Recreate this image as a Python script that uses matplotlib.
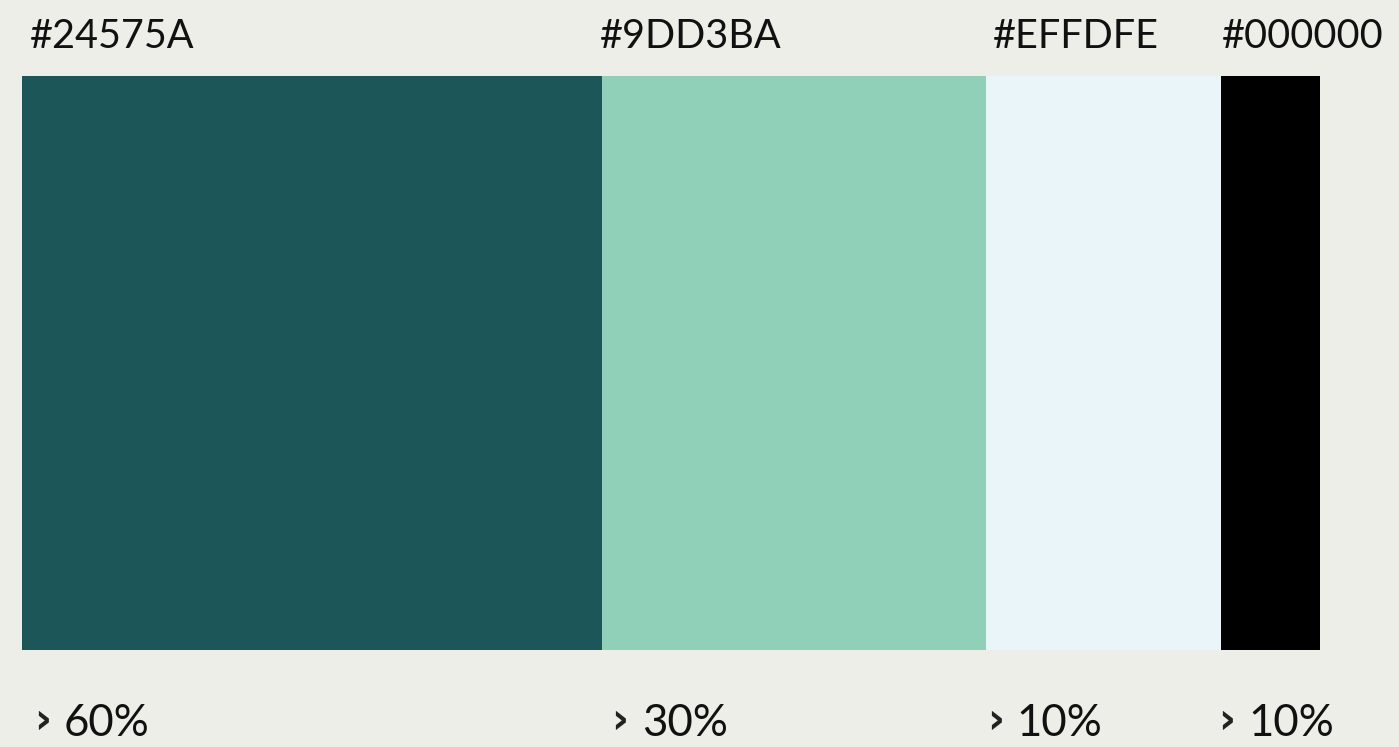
import matplotlib
matplotlib.use("Agg")
import matplotlib.pyplot as plt
import numpy as np

# Data
hex_labels = ["#24575A", "#9DD3BA", "#EFFDFE", "#000000"]
percent_labels = ["60%", "30%", "10%", "10%"]
widths = [580, 384, 235, 99]
bar_colors = ["#1D5659", "#90D0B9", "#EAF5FA", "#000000"]

BG = "#EEEEE8"
W, H = 1399, 747
fig = plt.figure(figsize=(W / 100, H / 100), dpi=100, facecolor=BG)
ax = fig.add_axes([22 / W, (H - 650) / H, (1320 - 22) / W, (650 - 76) / H])
ax.set_facecolor(BG)

lefts = np.concatenate([[0], np.cumsum(widths)[:-1]])
ax.bar(lefts, [1] * len(widths), width=widths, align="edge", color=bar_colors,
       linewidth=0)
ax.set_xlim(0, sum(widths))
ax.set_ylim(0, 1)
ax.axis("off")

font = "Lato"
trans = ax.get_xaxis_transform()
px = 1 / 574.0
head_dx = [8, -2, 7, 1]
for i, (l, lab) in enumerate(zip(lefts, hex_labels)):
    ax.text(l + head_dx[i], 1 + 28 * px, lab, transform=trans, ha="left",
            va="baseline", fontsize=28.5, family=font, color="#111111",
            clip_on=False)

chev_dx = [12, 9, 1, -3]
num_dx = [42, 40, 30, 27]
for i, (l, lab) in enumerate(zip(lefts, percent_labels)):
    ax.text(l + chev_dx[i], -83 * px, "\u203a", transform=trans, ha="left",
            va="baseline", fontsize=30, family="DejaVu Sans", weight="bold",
            color="#222222", clip_on=False)
    ax.text(l + num_dx[i], -86 * px, lab, transform=trans, ha="left",
            va="baseline", fontsize=31.5, family=font, color="#111111",
            clip_on=False)

fig.savefig("out.png", dpi=100, facecolor=BG)
